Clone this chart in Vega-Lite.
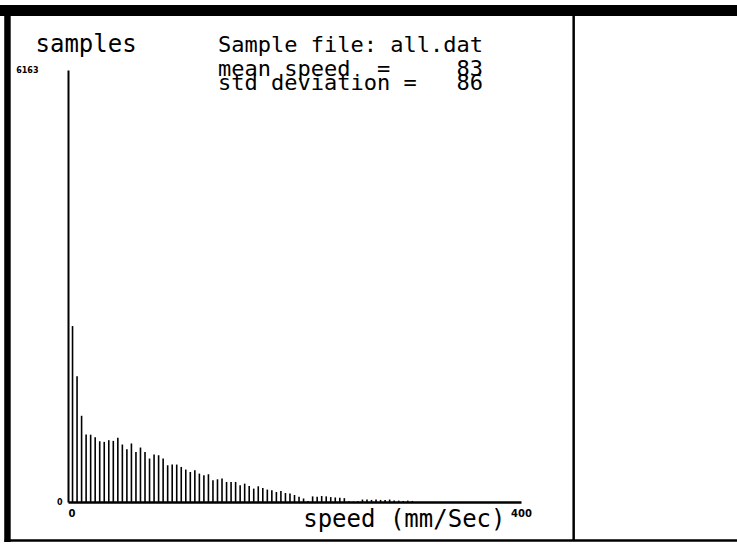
{
  "$schema": "https://vega.github.io/schema/vega-lite/v6.json",
  "width": 453,
  "height": 432,
  "autosize": "none",
  "padding": {"left": 68, "top": 70, "right": 216, "bottom": 53},
  "background": "white",
  "config": {"view": {"stroke": null}},
  "title": {
    "text": "Sample file: all.dat",
    "subtitle": ["mean speed\u00a0\u00a0=\u00a0\u00a0\u00a0\u00a0\u00a083", "std deviation =\u00a0\u00a0\u00a086"],
    "anchor": "start",
    "frame": "group",
    "orient": "top",
    "dx": 150,
    "offset": -90,
    "font": "DejaVu Sans Mono",
    "fontSize": 22,
    "fontWeight": "normal",
    "color": "black",
    "subtitleFont": "DejaVu Sans Mono",
    "subtitleFontSize": 22,
    "subtitleColor": "black",
    "subtitleLineHeight": 14,
    "subtitlePadding": 2
  },
  "layer": [
    {
      "data": {"values": [
        {"speed": 4, "count": 2510}, {"speed": 8, "count": 1795}, {"speed": 12, "count": 1230}, {"speed": 16, "count": 963},
        {"speed": 20, "count": 960}, {"speed": 24, "count": 925}, {"speed": 28, "count": 868}, {"speed": 32, "count": 858},
        {"speed": 36, "count": 882}, {"speed": 40, "count": 872}, {"speed": 44, "count": 915}, {"speed": 48, "count": 820},
        {"speed": 52, "count": 754}, {"speed": 56, "count": 835}, {"speed": 60, "count": 714}, {"speed": 64, "count": 777},
        {"speed": 68, "count": 714}, {"speed": 72, "count": 620}, {"speed": 76, "count": 677}, {"speed": 80, "count": 667},
        {"speed": 84, "count": 620}, {"speed": 88, "count": 524}, {"speed": 92, "count": 534}, {"speed": 96, "count": 534},
        {"speed": 100, "count": 500}, {"speed": 104, "count": 463}, {"speed": 108, "count": 428}, {"speed": 112, "count": 453},
        {"speed": 116, "count": 405}, {"speed": 120, "count": 381}, {"speed": 124, "count": 396}, {"speed": 128, "count": 310},
        {"speed": 132, "count": 324}, {"speed": 136, "count": 334}, {"speed": 140, "count": 286}, {"speed": 144, "count": 286},
        {"speed": 148, "count": 286}, {"speed": 152, "count": 238}, {"speed": 156, "count": 262}, {"speed": 160, "count": 228},
        {"speed": 164, "count": 191}, {"speed": 168, "count": 224}, {"speed": 172, "count": 200}, {"speed": 176, "count": 177},
        {"speed": 180, "count": 167}, {"speed": 184, "count": 143}, {"speed": 188, "count": 157}, {"speed": 192, "count": 128},
        {"speed": 196, "count": 120}, {"speed": 200, "count": 100}, {"speed": 204, "count": 75}, {"speed": 208, "count": 50},
        {"speed": 212, "count": 15}, {"speed": 216, "count": 80}, {"speed": 220, "count": 75}, {"speed": 224, "count": 85},
        {"speed": 228, "count": 80}, {"speed": 232, "count": 70}, {"speed": 236, "count": 65}, {"speed": 240, "count": 60},
        {"speed": 244, "count": 55}, {"speed": 248, "count": 10}, {"speed": 252, "count": 5}, {"speed": 256, "count": 10},
        {"speed": 260, "count": 35}, {"speed": 264, "count": 35}, {"speed": 268, "count": 30}, {"speed": 272, "count": 35},
        {"speed": 276, "count": 30}, {"speed": 280, "count": 30}, {"speed": 284, "count": 35}, {"speed": 288, "count": 20},
        {"speed": 292, "count": 20}, {"speed": 296, "count": 15}, {"speed": 300, "count": 20}, {"speed": 304, "count": 15}
      ]},
      "mark": {"type": "bar", "orient": "vertical", "width": 1.6, "color": "black"},
      "encoding": {
        "x": {
          "field": "speed", "type": "quantitative",
          "scale": {"domain": [0, 400], "nice": false, "zero": false, "padding": 0},
          "axis": {
            "values": [0, 400], "format": "d", "ticks": false, "grid": false,
            "domainColor": "black", "domainWidth": 2.5,
            "labelFont": "DejaVu Sans", "labelFontSize": 10, "labelFontWeight": "bold", "labelColor": "black",
            "labelPadding": 6, "labelFlush": false,
            "labelAlign": {"condition": {"test": "datum.value == 0", "value": "left"}, "value": "center"},
            "title": "speed (mm/Sec)", "titleFont": "DejaVu Sans Mono", "titleFontSize": 24, "titleFontWeight": "normal",
            "titleColor": "black", "titleAnchor": "end", "titleAlign": "right", "titleX": 437, "titleY": 17, "titleBaseline": "middle"
          }
        },
        "y": {
          "field": "count", "type": "quantitative", "stack": null,
          "scale": {"domain": [0, 6163], "nice": false, "padding": 0},
          "axis": {
            "values": [0, 6163], "format": "d", "ticks": false, "grid": false,
            "domainColor": "black", "domainWidth": 2,
            "labelFont": "DejaVu Sans", "labelFontSize": 8, "labelFontWeight": "bold", "labelColor": "black",
            "labelPadding": {"condition": {"test": "datum.value > 0", "value": 30}, "value": 6},
            "title": "samples", "titleAngle": 0, "titleAlign": "left", "titleBaseline": "middle",
            "titleX": -33, "titleY": -26, "titleFont": "DejaVu Sans Mono", "titleFontSize": 24, "titleFontWeight": "normal", "titleColor": "black"
          }
        }
      }
    },
    {
      "data": {"values": [{}]},
      "mark": {"type": "rect", "color": "black"},
      "encoding": {
        "x": {"datum": -61}, "x2": {"datum": 591},
        "y": {"datum": 7090}, "y2": {"datum": 6935}
      }
    },
    {
      "data": {"values": [{}]},
      "mark": {"type": "rect", "color": "black"},
      "encoding": {
        "x": {"datum": -56.3}, "x2": {"datum": -50.6},
        "y": {"datum": 7090}, "y2": {"datum": -571}
      }
    },
    {
      "data": {"values": [{}]},
      "mark": {"type": "rule", "color": "black", "strokeWidth": 2.5},
      "encoding": {
        "x": {"datum": 446.5},
        "y": {"datum": 6935}, "y2": {"datum": -549}
      }
    },
    {
      "data": {"values": [{}]},
      "mark": {"type": "rule", "color": "black", "strokeWidth": 2.5},
      "encoding": {
        "y": {"datum": -549},
        "x": {"datum": -56}, "x2": {"datum": 591}
      }
    }
  ]
}
